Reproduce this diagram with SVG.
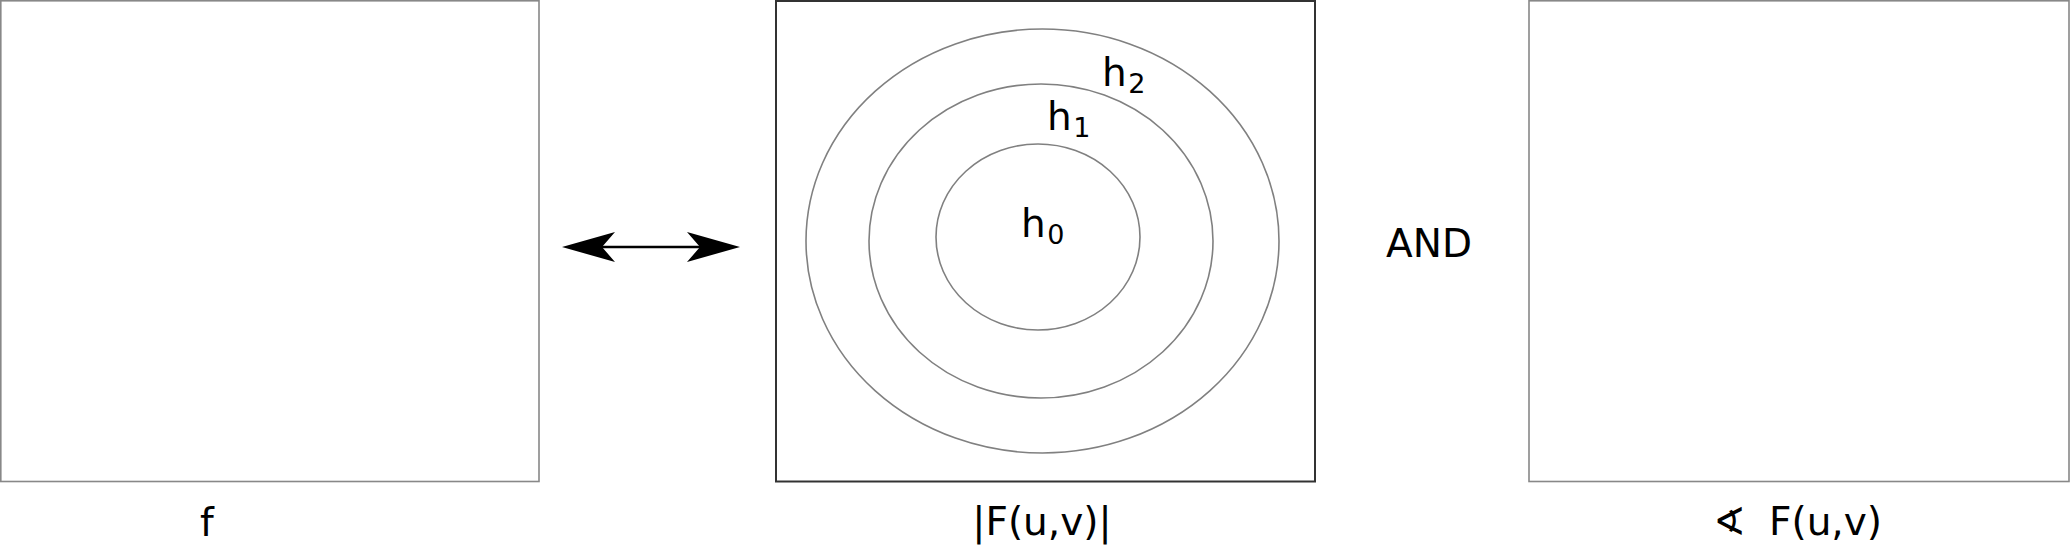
<svg xmlns="http://www.w3.org/2000/svg" width="2070" height="546" viewBox="0 0 2070 546">
<style>
.box{fill:#fff;stroke:#888;stroke-width:1.6}
.boxd{fill:#fff;stroke:#333;stroke-width:2}
.ring{fill:none;stroke:#808080;stroke-width:1.6}
.t{font-family:"DejaVu Sans","Liberation Sans",sans-serif;font-size:39px;fill:#000}
.s{font-size:27px}
.conn{stroke:#000;stroke-width:2.4;fill:none}
.head{fill:#000;stroke:none}
</style>
<rect width="2070" height="546" fill="#fff"/>
<g id="node-f">
<rect class="box" x="0.8" y="0.8" width="538.2" height="480.7"/>
<text class="t" x="200" y="536">f</text>
</g>
<g id="node-magnitude">
<rect class="boxd" x="776" y="1" width="539" height="480.5"/>
<ellipse class="ring" cx="1042.5" cy="241" rx="236.5" ry="212"/>
<ellipse class="ring" cx="1041" cy="241" rx="172" ry="157"/>
<ellipse class="ring" cx="1038" cy="237" rx="102" ry="93"/>
<text class="t" x="1021" y="237">h<tspan class="s" dx="1.5" dy="7">0</tspan></text>
<text class="t" x="1047" y="130">h<tspan class="s" dx="1.5" dy="7">1</tspan></text>
<text class="t" x="1102" y="86">h<tspan class="s" dx="1.5" dy="7">2</tspan></text>
<text class="t" x="1042" y="535" text-anchor="middle">|F(u,v)|</text>
</g>
<g id="node-and">
<text class="t" x="1429" y="257" text-anchor="middle">AND</text>
</g>
<g id="node-phase">
<rect class="box" x="1529" y="0.8" width="540" height="480.7"/>
<text class="t" x="1713" y="535">∢</text>
<text class="t" x="1769" y="535">F(u,v)</text>
</g>
<g id="connectors">
<line class="conn" x1="600" y1="247" x2="702" y2="247"/>
<path class="head" d="M562,247 L615,232 L602,247 L615,262 Z"/>
<path class="head" d="M740,247 L687,232 L700,247 L687,262 Z"/>
</g>
</svg>
